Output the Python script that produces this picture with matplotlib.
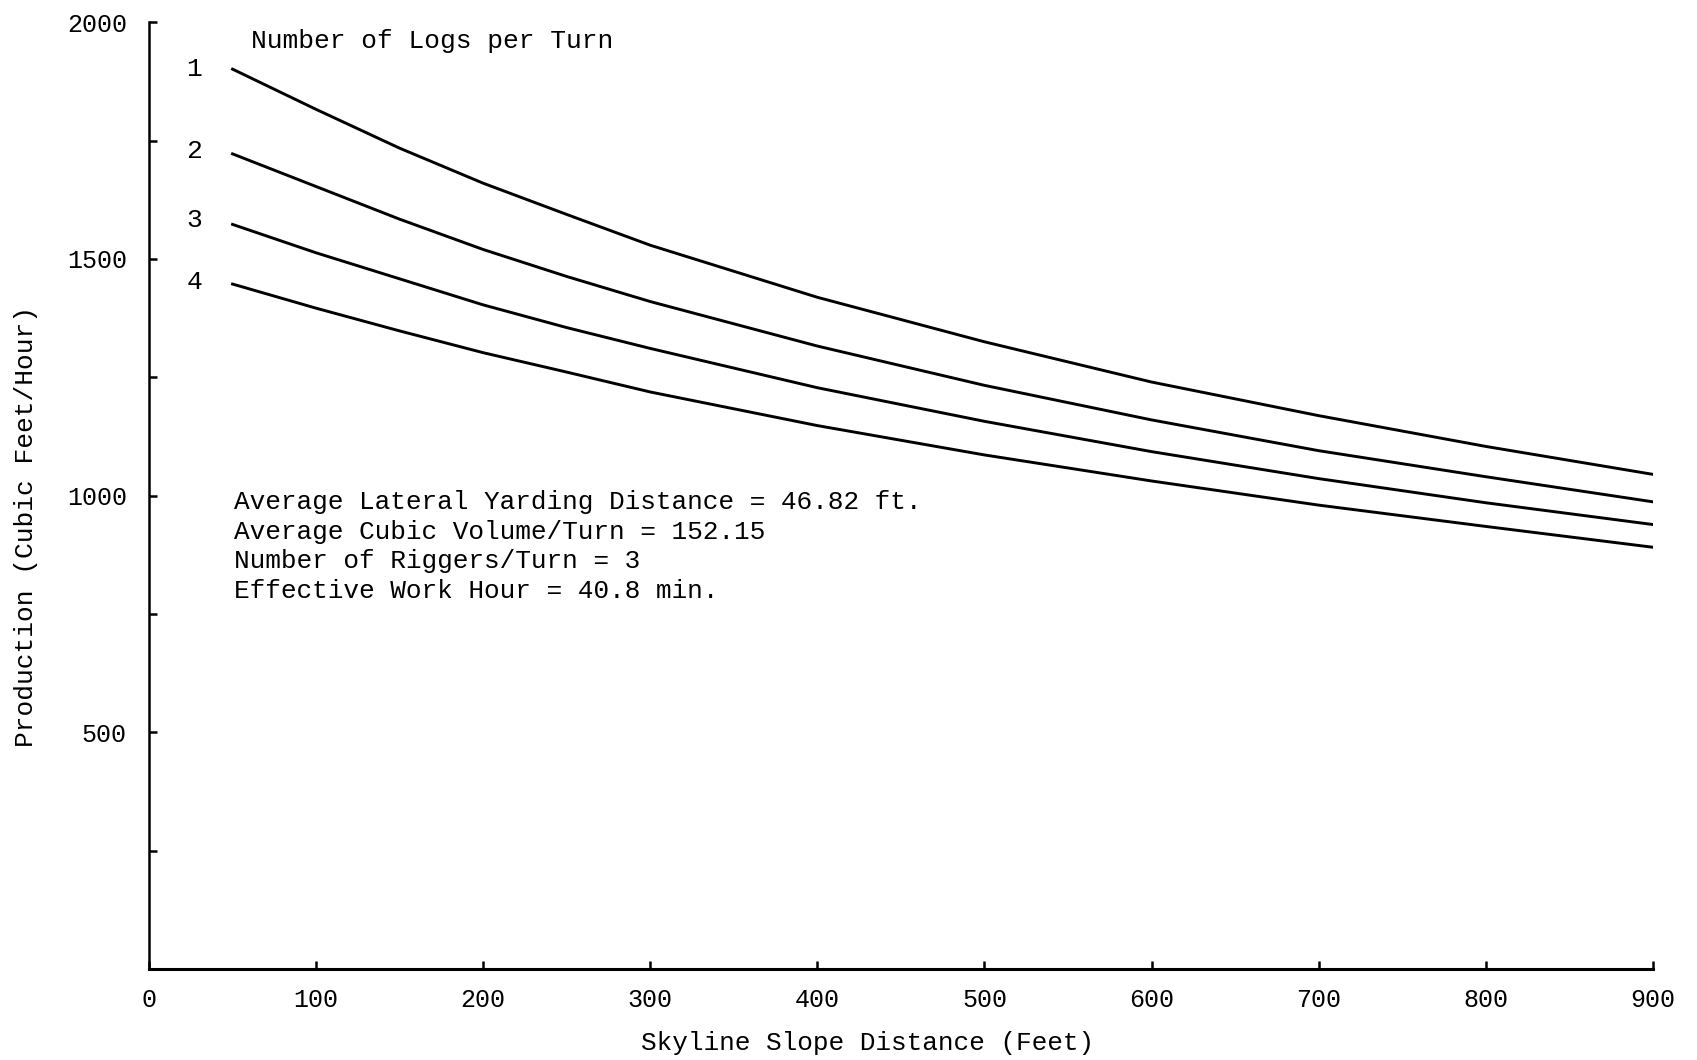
import numpy as np
import matplotlib
matplotlib.use("Agg")
import matplotlib.pyplot as plt
from matplotlib.ticker import MultipleLocator

# Skyline slope distance (feet)
distance = [50, 100, 150, 200, 250, 300, 400, 500, 600, 700, 800, 900]

# Production (cubic feet/hour) for 1..4 logs per turn
logs_1 = [1901, 1816, 1734, 1660, 1594, 1529, 1419, 1325, 1240, 1169, 1104, 1045]
logs_2 = [1722, 1653, 1584, 1520, 1463, 1410, 1316, 1233, 1160, 1095, 1040, 987]
logs_3 = [1573, 1513, 1458, 1403, 1355, 1311, 1228, 1157, 1093, 1036, 985, 939]
logs_4 = [1447, 1396, 1348, 1302, 1261, 1219, 1148, 1086, 1031, 980, 935, 891]

series = [logs_1, logs_2, logs_3, logs_4]
series_labels = ["1", "2", "3", "4"]
label_y = [1901, 1727, 1582, 1451]

notes = ["Average Lateral Yarding Distance = 46.82 ft.",
         "Average Cubic Volume/Turn = 152.15",
         "Number of Riggers/Turn = 3",
         "Effective Work Hour = 40.8 min."]

plt.rcParams["font.family"] = ["Liberation Mono", "DejaVu Sans Mono"]

fig = plt.figure(figsize=(16.97, 10.6), dpi=100)
ax = fig.add_axes([0.0878, 0.0858, 0.974 - 0.0878, 0.979 - 0.0858])

for values in series:
    ax.plot(distance, values, color="black", linewidth=2.1)

for lab, y in zip(series_labels, label_y):
    ax.text(27, y, lab, fontsize=19, ha="center", va="center")

ax.text(61, 1960, "Number of Logs per Turn", fontsize=18.9, ha="left", va="center")

ax.text(51, 1012, "\n".join(notes), fontsize=18.8, ha="left", va="top",
        linespacing=1.3)

ax.set_xlim(0, 900)
ax.set_ylim(0, 2000)
ax.xaxis.set_major_locator(MultipleLocator(100))
ax.yaxis.set_minor_locator(MultipleLocator(250))
ax.set_yticks([500, 1000, 1500, 2000])

ax.spines["top"].set_visible(False)
ax.spines["right"].set_visible(False)
ax.spines["left"].set_linewidth(1.8)
ax.spines["bottom"].set_linewidth(2.2)

ax.tick_params(axis="both", which="both", direction="in", width=1.8)
ax.tick_params(axis="x", which="major", length=6, pad=14, labelsize=18)
ax.tick_params(axis="y", which="major", length=6, pad=16, labelsize=18)
ax.tick_params(axis="y", which="minor", length=6)

ax.set_xlabel("Skyline Slope Distance (Feet)", fontsize=18.8, labelpad=12)
ax.xaxis.set_label_coords(0.478, -0.065)
ax.set_ylabel("Production (Cubic Feet/Hour)", fontsize=18.9, labelpad=20)
ax.yaxis.set_label_coords(-0.074, 0.467)

fig.savefig("out.png", dpi=100)
